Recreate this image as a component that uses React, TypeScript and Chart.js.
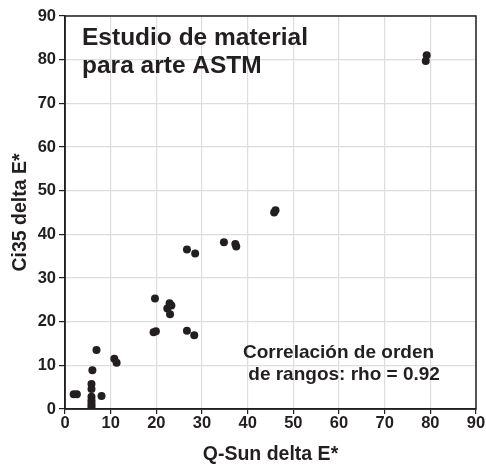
import React, { useEffect, useRef } from "react";
import { Chart, registerables } from "chart.js";
Chart.register(...registerables);

const qSunDeltaE = [1.9, 2.6, 6.9, 6.0, 5.8, 5.8, 5.8, 5.8, 5.8, 5.8, 5.8, 8.0, 10.8, 11.3, 19.4, 19.9, 19.7, 22.4, 22.9, 23.3, 23.0, 26.7, 28.3, 26.7, 28.5, 34.8, 37.3, 37.5, 45.8, 46.1, 79.0, 79.2];
const ci35DeltaE = [3.4, 3.4, 13.5, 8.9, 5.7, 4.6, 2.8, 2.0, 1.4, 0.8, 0.3, 3.0, 11.5, 10.6, 17.6, 17.8, 25.3, 23.0, 24.2, 23.7, 21.7, 17.9, 16.9, 36.5, 35.6, 38.2, 37.8, 37.2, 45.0, 45.5, 79.7, 81.0];
const axisTicks = [0, 10, 20, 30, 40, 50, 60, 70, 80, 90];
const titleLines = ["Estudio de material", "para arte ASTM"];
const noteLines = ["Correlación de orden", " de rangos: rho = 0.92"];
const xTitle = "Q-Sun delta E*";
const yTitle = "Ci35 delta E*";

const INK = "#231f20";
const FONT = "'Liberation Sans', Arial, Helvetica, sans-serif";

export default function App() {
  const ref = useRef<HTMLCanvasElement | null>(null);
  useEffect(() => {
    document.body.style.margin = "0";
    const canvas = ref.current;
    if (!canvas) return;
    const frame = {
      id: "frameAndText",
      afterDatasetsDraw(chart: any) {
        const { ctx, chartArea: a } = chart;
        ctx.save();
        ctx.strokeStyle = INK;
        ctx.lineWidth = 1.5;
        ctx.strokeRect(a.left, a.top, a.right - a.left, a.bottom - a.top);
        ctx.fillStyle = INK;
        ctx.textBaseline = "alphabetic";
        ctx.textAlign = "left";
        ctx.font = `bold 24.5px ${FONT}`;
        titleLines.forEach((t, i) => ctx.fillText(t, 82, 45 + i * 28));
        ctx.font = `bold 19px ${FONT}`;
        noteLines.forEach((t, i) => ctx.fillText(t, 243, 358 + i * 22));
        ctx.restore();
      },
    };
    const tickFont = { family: FONT, size: 16.5, weight: "bold" as const };
    const titleFont = { family: FONT, size: 19.5, weight: "bold" as const, lineHeight: 1.0 };
    const chart = new Chart(canvas, {
      type: "scatter",
      data: {
        datasets: [
          {
            data: qSunDeltaE.map((x, i) => ({ x, y: ci35DeltaE[i] })),
            backgroundColor: INK,
            borderColor: INK,
            pointRadius: 4,
            borderWidth: 0,
          },
        ],
      },
      options: {
        animation: false,
        responsive: false,
        devicePixelRatio: 1,
        layout: { padding: { top: 16, right: 10, left: 0, bottom: 0 } },
        plugins: { legend: { display: false }, tooltip: { enabled: false } },
        scales: {
          x: {
            type: "linear",
            min: 0,
            max: 90,
            afterBuildTicks: (s: any) => { s.ticks = axisTicks.map((v) => ({ value: v })); },
            afterFit: (s: any) => { s.height = 55; },
            grid: { color: "#dddddd", tickColor: INK, tickLength: 5, lineWidth: 1.2 },
            border: { color: INK, width: 1.5 },
            ticks: { color: INK, font: tickFont, padding: 0, maxRotation: 0 },
            title: { display: true, text: xTitle, color: INK, font: titleFont, padding: { top: 0, bottom: 0 } },
          },
          y: {
            type: "linear",
            min: 0,
            max: 90,
            afterBuildTicks: (s: any) => { s.ticks = axisTicks.map((v) => ({ value: v })); },
            afterFit: (s: any) => { s.width = 65; },
            grid: { color: "#dddddd", tickColor: INK, tickLength: 6, lineWidth: 1.2 },
            border: { color: INK, width: 1.5 },
            ticks: { color: INK, font: tickFont, padding: 3 },
            title: { display: true, text: yTitle, color: INK, font: titleFont, padding: { top: 11, bottom: 0 } },
          },
        },
      },
      plugins: [frame],
    });
    return () => chart.destroy();
  }, []);
  return (
    <div style={{ position: "absolute", left: 0, top: 0, width: 486, height: 464, background: "#fff" }}>
      <canvas ref={ref} width={486} height={464} style={{ width: 486, height: 464 }} />
    </div>
  );
}
